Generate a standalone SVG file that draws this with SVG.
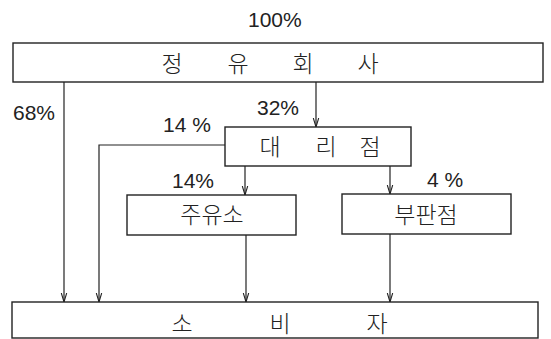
<svg xmlns="http://www.w3.org/2000/svg" width="551" height="339" viewBox="0 0 551 339">
<defs>
<marker id="arr" viewBox="0 0 10 10" refX="10" refY="5" markerWidth="9" markerHeight="9" orient="auto" markerUnits="userSpaceOnUse">
<path d="M0,2 L10,5 L0,8" fill="none" stroke="#222" stroke-width="1.2"/>
</marker>
<style>
.box{fill:#fff;stroke:#222;stroke-width:1.4}
.ln{fill:none;stroke:#222;stroke-width:1.2}
.kt{font-family:"Noto Sans CJK KR","Noto Sans",sans-serif;font-size:23px;font-weight:300;fill:#222;text-anchor:middle}
.pt{font-family:"Liberation Sans","Noto Sans",sans-serif;font-size:21px;fill:#222}
</style>
</defs>
<rect width="551" height="339" fill="#fff"/>
<text class="pt" x="248" y="27">100%</text>
<g id="node-refinery">
<rect class="box" x="13" y="43" width="530" height="39"/>
<text class="kt" x="172" y="72">정</text>
<text class="kt" x="238" y="72">유</text>
<text class="kt" x="303" y="72">회</text>
<text class="kt" x="368" y="72">사</text>
</g>
<g id="node-agency">
<rect class="box" x="225" y="127" width="186" height="39"/>
<text class="kt" x="270" y="155">대</text>
<text class="kt" x="326" y="155">리</text>
<text class="kt" x="370" y="155">점</text>
</g>
<g id="node-station">
<rect class="box" x="127" y="195" width="169" height="40"/>
<text class="kt" x="212" y="223">주유소</text>
</g>
<g id="node-subdealer">
<rect class="box" x="342" y="194" width="169" height="40"/>
<text class="kt" x="426" y="223">부판점</text>
</g>
<g id="node-consumer">
<rect class="box" x="12" y="302" width="526" height="36"/>
<text class="kt" x="182" y="332">소</text>
<text class="kt" x="280" y="332">비</text>
<text class="kt" x="377" y="332">자</text>
</g>
<g id="connectors">
<path class="ln" d="M64,82 V302" marker-end="url(#arr)"/>
<path class="ln" d="M316,82 V127" marker-end="url(#arr)"/>
<path class="ln" d="M225,145 H99 V302" marker-end="url(#arr)"/>
<path class="ln" d="M245,166 V195" marker-end="url(#arr)"/>
<path class="ln" d="M390,166 V194" marker-end="url(#arr)"/>
<path class="ln" d="M246,235 V302" marker-end="url(#arr)"/>
<path class="ln" d="M390,234 V302" marker-end="url(#arr)"/>
</g>
<g id="labels">
<text class="pt" x="13" y="120">68%</text>
<text class="pt" x="257" y="115">32%</text>
<text class="pt" x="163" y="132">14 %</text>
<text class="pt" x="172" y="188">14%</text>
<text class="pt" x="427" y="187">4 %</text>
</g>
</svg>
